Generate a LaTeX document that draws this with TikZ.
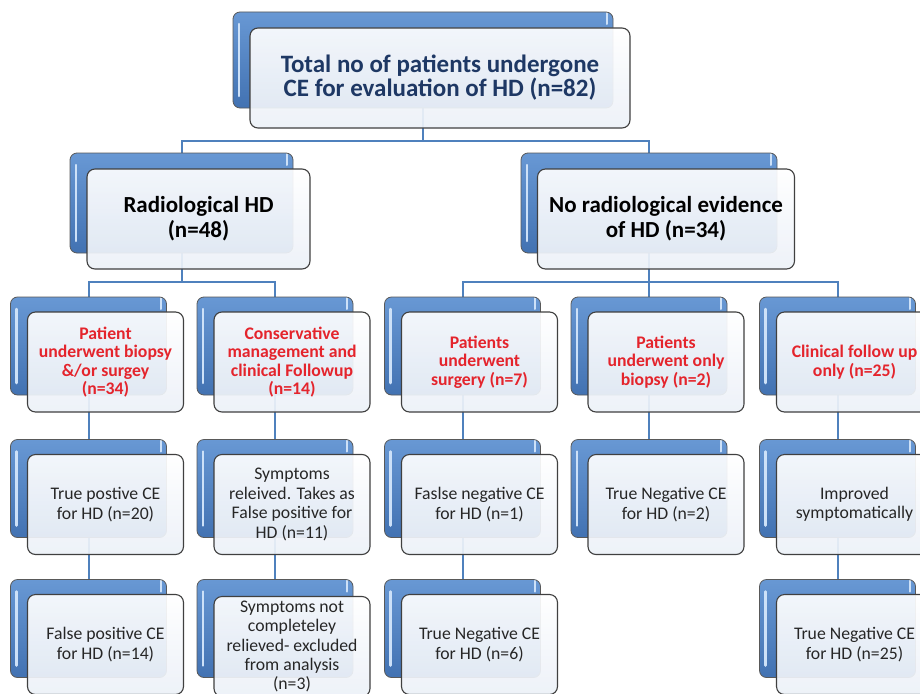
\documentclass[tikz,border=0pt]{standalone}
\usepackage{fontspec}
\setmainfont{Carlito}
\usepackage{xcolor}
\usepackage{tikz}
\usetikzlibrary{positioning, backgrounds, calc}
\definecolor{tabtop}{RGB}{104,152,212}
\definecolor{tabbottom}{RGB}{66,114,178}
\definecolor{tabhigh}{RGB}{205,225,248}
\definecolor{cardbottom}{RGB}{236,241,248}
\definecolor{linkcolor}{RGB}{79,129,189}
\definecolor{titlecolor}{RGB}{30,56,100}
\definecolor{armcolor}{RGB}{228,36,44}

\begin{document}
\begin{tikzpicture}[
    x=1pt, y=-1pt,
    tab/.style={draw=black!65, line width=0.8pt, rounded corners=7pt, minimum width=156pt, minimum height=98pt, top color=tabtop, bottom color=tabbottom,
        path picture={\draw[tabhigh, line width=2.5pt, line cap=round] ([shift={(6pt,-12pt)}]path picture bounding box.north west) -- ([shift={(6pt,12pt)}]path picture bounding box.south west);
                      \draw[tabhigh, line width=2pt, line cap=round] ([shift={(-6pt,-12pt)}]path picture bounding box.north east) -- ([shift={(-6pt,30pt)}]path picture bounding box.north east);}},
    card/.style={draw=black!75, line width=1.1pt, rounded corners=8pt, minimum width=156pt, minimum height=100pt, align=center, top color=white, bottom color=cardbottom, fill opacity=0.92, text opacity=1, inner sep=1pt, xshift=17pt, yshift=-16pt},
    head/.style={font=\fontsize{25}{24}\selectfont\bfseries, text=titlecolor},
    branch/.style={font=\fontsize{23}{25}\selectfont\bfseries, text=black},
    arm/.style={font=\fontsize{17.7}{18.5}\selectfont\bfseries, text=armcolor},
    result/.style={font=\fontsize{17.7}{19.4}\selectfont, text=black!85},
    link/.style={draw=linkcolor, line width=2pt}
]
    \useasboundingbox (0,0) rectangle (920,693);
    \clip (0,0) rectangle (920,693);

    % Total
    \node[tab, minimum width=380pt, minimum height=96pt] (total-tab) at (423,60) {};
    \node[card, head, minimum width=380pt, yshift=-2pt] (total) at (total-tab) {Total no of patients undergone\\CE for evaluation of HD (n=82)};

    % Radiological / no radiological
    \node[tab, minimum width=223pt, minimum height=100pt] (radio-tab) at (181.5,203) {};
    \node[card, branch, minimum width=223pt] (radio) at (radio-tab) {Radiological HD\\(n=48)};
    \node[tab, minimum width=256pt, minimum height=100pt] (norad-tab) at (649,203) {};
    \node[card, branch, minimum width=257pt] (norad) at (norad-tab) {No radiological evidence\\of HD (n=34)};

    % Management
    \node[tab] (biopsy-tab) at (88.5,346) {};
    \node[card, arm] (biopsy) at (biopsy-tab) {Patient\\underwent biopsy\\\&/or surgey\\(n=34)};
    \node[tab] (conserv-tab) at (275,346) {};
    \node[card, arm] (conserv) at (conserv-tab) {Conservative\\management and\\clinical Followup\\(n=14)};
    \node[tab] (surgery-tab) at (462.5,346) {};
    \node[card, arm] (surgery) at (surgery-tab) {Patients\\underwent\\surgery (n=7)};
    \node[tab] (onlybiopsy-tab) at (649,346) {};
    \node[card, arm] (onlybiopsy) at (onlybiopsy-tab) {Patients\\underwent only\\biopsy (n=2)};
    \node[tab] (followup-tab) at (837.5,346) {};
    \node[card, arm] (followup) at (followup-tab) {Clinical follow up\\only (n=25)};

    % Outcomes
    \node[tab] (truepos-tab) at (88.5,488.5) {};
    \node[card, result] (truepos) at (truepos-tab) {True postive CE\\for HD (n=20)};
    \node[tab] (relieved-tab) at (275,488.5) {};
    \node[card, result] (relieved) at (relieved-tab) {Symptoms\\releived. Takes as\\False positive for\\HD (n=11)};
    \node[tab] (falseneg-tab) at (462.5,488.5) {};
    \node[card, result] (falseneg) at (falseneg-tab) {Faslse negative CE\\for HD (n=1)};
    \node[tab] (truenegb-tab) at (649,488.5) {};
    \node[card, result] (truenegb) at (truenegb-tab) {True Negative CE\\for HD (n=2)};
    \node[tab] (improved-tab) at (837.5,488.5) {};
    \node[card, result] (improved) at (improved-tab) {Improved\\symptomatically};

    \node[tab] (falsepos-tab) at (88.5,628.5) {};
    \node[card, result] (falsepos) at (falsepos-tab) {False positive CE\\for HD (n=14)};
    \node[tab] (excluded-tab) at (275,628.5) {};
    \node[card, result, yshift=-2pt] (excluded) at (excluded-tab) {Symptoms not\\completeley\\relieved- excluded\\from analysis\\(n=3)};
    \node[tab] (truenegs-tab) at (462.5,628.5) {};
    \node[card, result] (truenegs) at (truenegs-tab) {True Negative CE\\for HD (n=6)};
    \node[tab] (truenegf-tab) at (837.5,628.5) {};
    \node[card, result] (truenegf) at (truenegf-tab) {True Negative CE\\for HD (n=25)};

    % Connections
    \coordinate (bus-top) at (423,141);
    \coordinate (bus-radio) at (181.5,282);
    \coordinate (bus-norad) at (649,282);
    \begin{scope}[on background layer]
        \fill[white] (0,0) rectangle (920,693);
        \draw[link] (total-tab) -- (bus-top);
        \draw[link] (bus-top) -| (radio-tab);
        \draw[link] (bus-top) -| (norad-tab);

        \draw[link] (radio-tab) -- (bus-radio);
        \draw[link] (bus-radio) -| (biopsy-tab);
        \draw[link] (bus-radio) -| (conserv-tab);

        \draw[link] (norad-tab) -- (bus-norad);
        \draw[link] (bus-norad) -| (surgery-tab);
        \draw[link] (bus-norad) -- (onlybiopsy-tab);
        \draw[link] (bus-norad) -| (followup-tab);

        \draw[link] (biopsy-tab) -- (truepos-tab);
        \draw[link] (truepos-tab) -- (falsepos-tab);
        \draw[link] (conserv-tab) -- (relieved-tab);
        \draw[link] (relieved-tab) -- (excluded-tab);
        \draw[link] (surgery-tab) -- (falseneg-tab);
        \draw[link] (falseneg-tab) -- (truenegs-tab);
        \draw[link] (onlybiopsy-tab) -- (truenegb-tab);
        \draw[link] (followup-tab) -- (improved-tab);
        \draw[link] (improved-tab) -- (truenegf-tab);
    \end{scope}
\end{tikzpicture}
\end{document}
